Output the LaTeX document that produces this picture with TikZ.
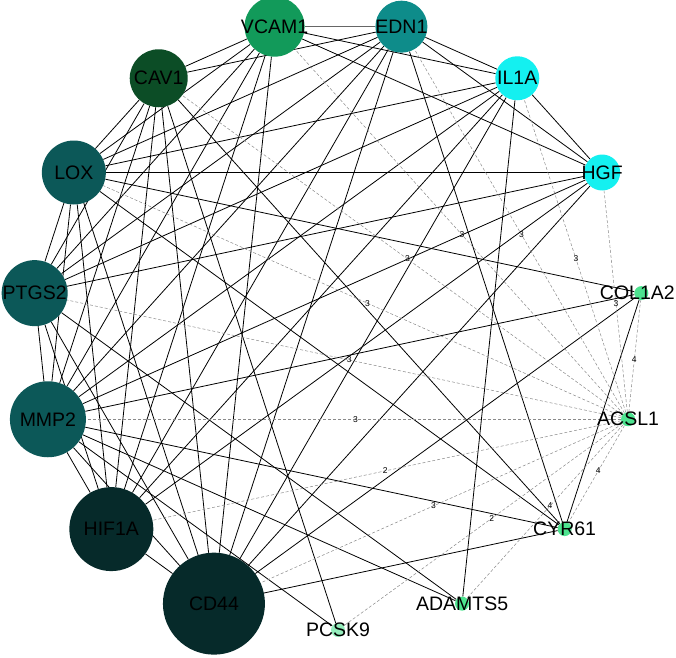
\documentclass[tikz,border=0pt]{standalone}
\usepackage{fontspec}
\setmainfont{Liberation Sans}
\usetikzlibrary{backgrounds,calc}

\definecolor{cvcam}{HTML}{129A5A}
\definecolor{cedn}{HTML}{0E8C8A}
\definecolor{ccyan}{HTML}{14F0F0}
\definecolor{ccav}{HTML}{0C4D26}
\definecolor{cteal}{HTML}{0C5858}
\definecolor{cdark}{HTML}{062A2A}
\definecolor{cdot}{HTML}{4DE38F}
\definecolor{cweak}{HTML}{8A8A8A}

\begin{document}
\begin{tikzpicture}[x=1pt,y=1pt,
    gene/.style={circle,inner sep=0pt,draw=none},
    dot/.style={circle,inner sep=0pt,minimum size=14pt,fill=cdot},
    glabel/.style={font=\fontsize{19.5}{20}\selectfont,inner sep=0pt},
    wlbl/.style={font=\fontsize{8.5}{8.5}\selectfont,inner sep=0pt}]
\useasboundingbox (-338,-332) rectangle (338,325);

% genes on a circle
\node[gene,minimum size=60,fill=cvcam,label={[glabel]center:VCAM1}] (vcam1) at (102:305) {};
\node[gene,minimum size=52,fill=cedn,label={[glabel]center:EDN1}] (edn1) at (78:305) {};
\node[gene,minimum size=44,fill=ccyan,label={[glabel]center:IL1A}] (il1a) at (54:305) {};
\node[gene,minimum size=36,fill=ccyan,label={[glabel]center:HGF}] (hgf) at (30:305) {};
\node[dot,label={[glabel,xshift=-4pt]center:COL1A2}] (col1a2) at (6:305) {};
\node[dot,label={[glabel]center:ACSL1}] (acsl1) at (-18:305) {};
\node[dot,label={[glabel]center:CYR61}] (cyr61) at (-42:305) {};
\node[dot,label={[glabel]center:ADAMTS5}] (adamts5) at (-66:305) {};
\node[dot,fill=cdot!60,label={[glabel]center:PCSK9}] (pcsk9) at (-90:305) {};
\node[gene,minimum size=102,fill=cdark,label={[glabel]center:CD44}] (cd44) at (-114:305) {};
\node[gene,minimum size=84,fill=cdark,label={[glabel]center:HIF1A}] (hif1a) at (-138:305) {};
\node[gene,minimum size=76,fill=cteal,label={[glabel]center:MMP2}] (mmp2) at (-162:305) {};
\node[gene,minimum size=66,fill=cteal,label={[glabel]center:PTGS2}] (ptgs2) at (174:305) {};
\node[gene,minimum size=64,fill=cteal,label={[glabel]center:LOX}] (lox) at (150:305) {};
\node[gene,minimum size=58,fill=ccav,label={[glabel]center:CAV1}] (cav1) at (126:305) {};

\begin{scope}[on background layer,
              every edge/.style={draw=black,line width=0.8pt}]
    \path (vcam1) edge[draw=black!60,line width=0.6pt] (edn1);
    \path (vcam1) edge (il1a);
    \path (vcam1) edge (hgf);
    \path (vcam1) edge (cav1);
    \path (vcam1) edge (lox);
    \path (vcam1) edge (ptgs2);
    \path (vcam1) edge (mmp2);
    \path (vcam1) edge (hif1a);
    \path (vcam1) edge (cd44);

    \path (edn1) edge (il1a);
    \path (edn1) edge (hgf);
    \path (edn1) edge (cyr61);
    \path (edn1) edge (cav1);
    \path (edn1) edge (lox);
    \path (edn1) edge (ptgs2);
    \path (edn1) edge (mmp2);
    \path (edn1) edge (hif1a);
    \path (edn1) edge (cd44);

    \path (il1a) edge (hgf);
    \path (il1a) edge (adamts5);
    \path (il1a) edge (lox);
    \path (il1a) edge (ptgs2);
    \path (il1a) edge (mmp2);
    \path (il1a) edge (hif1a);
    \path (il1a) edge (cd44);

    \path (hgf) edge (lox);
    \path (hgf) edge (ptgs2);
    \path (hgf) edge (mmp2);
    \path (hgf) edge (hif1a);
    \path (hgf) edge (cd44);

    \path (col1a2) edge (lox);
    \path (col1a2) edge (mmp2);
    \path (col1a2) edge (cd44);
    \path (col1a2) edge (cyr61);

    \path (cyr61) edge (lox);
    \path (cyr61) edge (cav1);
    \path (cyr61) edge (mmp2);
    \path (cyr61) edge (cd44);

    \path (adamts5) edge (ptgs2);
    \path (adamts5) edge (mmp2);

    \path (pcsk9) edge (cav1);
    \path (pcsk9) edge (mmp2);

    \path (cd44) edge (hif1a);
    \path (cd44) edge (mmp2);
    \path (cd44) edge (ptgs2);
    \path (cd44) edge (lox);
    \path (cd44) edge (cav1);

    \path (hif1a) edge (mmp2);
    \path (hif1a) edge (ptgs2);
    \path (hif1a) edge (lox);
    \path (hif1a) edge (cav1);

    \path (mmp2) edge (ptgs2);
    \path (mmp2) edge (lox);
    \path (mmp2) edge (cav1);

    \path (ptgs2) edge (lox);
    \path (ptgs2) edge (cav1);

    \path (lox) edge (cav1);
\end{scope}

% predicted links around ACSL1
\begin{scope}[on background layer,
              every edge/.style={draw=cweak,line width=0.5pt,dash pattern=on 3pt off 2pt}]
    \path (acsl1) edge (vcam1) ($(acsl1)!.47!(vcam1)$) node[wlbl] {3};
    \path (acsl1) edge (edn1) ($(acsl1)!.47!(edn1)$) node[wlbl] {3};
    \path (acsl1) edge (il1a) ($(acsl1)!.47!(il1a)$) node[wlbl] {3};
    \path (acsl1) edge (hgf) ($(acsl1)!.47!(hgf)$) node[wlbl] {3};
    \path (acsl1) edge (col1a2) ($(acsl1)!.47!(col1a2)$) node[wlbl] {4};
    \path (acsl1) edge (cyr61) ($(acsl1)!.47!(cyr61)$) node[wlbl] {4};
    \path (acsl1) edge (adamts5) ($(acsl1)!.47!(adamts5)$) node[wlbl] {4};
    \path (acsl1) edge (pcsk9) ($(acsl1)!.47!(pcsk9)$) node[wlbl] {2};
    \path (acsl1) edge (cd44) ($(acsl1)!.47!(cd44)$) node[wlbl] {3};
    \path (acsl1) edge (hif1a) ($(acsl1)!.47!(hif1a)$) node[wlbl] {2};
    \path (acsl1) edge (mmp2) ($(acsl1)!.47!(mmp2)$) node[wlbl] {3};
    \path (acsl1) edge (ptgs2) ($(acsl1)!.47!(ptgs2)$) node[wlbl] {3};
    \path (acsl1) edge (lox) ($(acsl1)!.47!(lox)$) node[wlbl] {3};
    \path (acsl1) edge (cav1) ($(acsl1)!.47!(cav1)$) node[wlbl] {3};
\end{scope}
\end{tikzpicture}
\end{document}
